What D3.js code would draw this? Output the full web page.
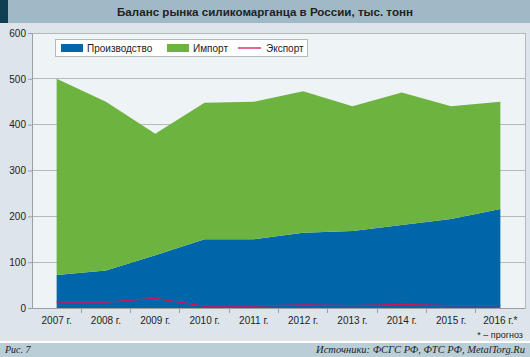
<!DOCTYPE html>
<html><head><meta charset="utf-8">
<script src="https://cdn.jsdelivr.net/npm/d3@7"></script>
<style>body{margin:0;background:#dde5ea;}svg{display:block;}</style>
</head><body><svg id="c" width="530" height="357"></svg>
<script>
const years = ["2007 г.","2008 г.","2009 г.","2010 г.","2011 г.","2012 г.","2013 г.","2014 г.","2015 г.","2016 г.*"];
const production = [72, 82, 115, 150, 150, 164, 168, 181, 194, 216];
const imports = [428, 368, 265, 298, 300, 309, 272, 289, 246, 234];
const exports_ = [13, 13, 21, 4, 4, 7, 5, 8, 5, 5];
const yTicks = [0,100,200,300,400,500,600];

const svg = d3.select("#c");
const W=530,H=357;
const font="Liberation Sans, Arial, Helvetica, sans-serif";
svg.append("rect").attr("width",W).attr("height",H).attr("fill","#dde5ea");
// title bar
svg.append("rect").attr("x",0).attr("y",0).attr("width",W).attr("height",23).attr("fill","#9fbac6");
svg.append("rect").attr("x",0).attr("y",0).attr("width",8).attr("height",23).attr("fill","#0e3f52");
svg.append("text").attr("x",265).attr("y",16).attr("text-anchor","middle").attr("font-family",font).attr("font-size",11.6).attr("font-weight","bold").attr("fill","#222").text("Баланс рынка силикомарганца в России, тыс. тонн");
// footer
svg.append("rect").attr("x",0).attr("y",341).attr("width",W).attr("height",2).attr("fill","#ffffff");
svg.append("rect").attr("x",0).attr("y",343).attr("width",W).attr("height",14).attr("fill","#b9ced7");
svg.append("text").attr("x",5).attr("y",353).attr("font-family","Liberation Serif, Times New Roman, serif").attr("font-style","italic").attr("font-size",10).attr("fill","#222").text("Рис. 7");
svg.append("text").attr("x",525).attr("y",353).attr("text-anchor","end").attr("font-family","Liberation Serif, Times New Roman, serif").attr("font-style","italic").attr("font-size",10.5).attr("fill","#222").text("Источники: ФСГС РФ, ФТС РФ, MetalTorg.Ru");

const L=32,R=525,T=33,B=308;
svg.append("rect").attr("x",L).attr("y",T).attr("width",R-L).attr("height",B-T).attr("fill","#eef3f6");

const x = d3.scaleBand().domain(years).range([L,R]);
const y = d3.scaleLinear().domain([0,600]).range([B,T]);
const cx = d => x(d)+x.bandwidth()/2;

// gridlines
svg.append("g").selectAll("line").data(yTicks).join("line")
  .attr("x1",L).attr("x2",R).attr("y1",d=>y(d)).attr("y2",d=>y(d))
  .attr("stroke","#b4b9bc").attr("stroke-width",1).attr("shape-rendering","crispEdges");
svg.append("line").attr("x1",R).attr("x2",R).attr("y1",T).attr("y2",B).attr("stroke","#b4b9bc").attr("shape-rendering","crispEdges");

const rows = years.map((yr,i)=>({yr, p:production[i], im:imports[i], e:exports_[i]}));
const stack = d3.stack().keys(["p","im"])(rows);
const area = d3.area().x(d=>cx(d.data.yr)).y0(d=>y(d[0])).y1(d=>y(d[1]));
const colors = ["#0066aa","#6db33f"];
svg.append("g").selectAll("path").data(stack).join("path").attr("d",area).attr("fill",(d,i)=>colors[i]);
svg.append("path").datum(rows).attr("d",d3.line().x(d=>cx(d.yr)).y(d=>y(d.e)))
  .attr("fill","none").attr("stroke","#d4145a").attr("stroke-width",1.3);

// axes
const ya = svg.append("g").attr("transform",`translate(${L},0)`)
  .call(d3.axisLeft(y).tickValues(yTicks).tickSize(4).tickPadding(2));
ya.select(".domain").attr("stroke","#9aa0a4");
ya.selectAll(".tick line").attr("stroke","#9aa0a4");
ya.selectAll("text").attr("font-family",font).attr("font-size",10).attr("fill","#222");

const xa = svg.append("g").attr("transform",`translate(0,${B})`)
  .call(d3.axisBottom(x).tickSize(0).tickPadding(9));
xa.select(".domain").attr("stroke","#9aa0a4");
xa.selectAll("text").attr("font-family",font).attr("font-size",10).attr("fill","#222");
svg.append("g").selectAll("line").data(years.slice(1)).join("line")
  .attr("x1",d=>x(d)).attr("x2",d=>x(d)).attr("y1",B).attr("y2",B+5)
  .attr("stroke","#9aa0a4").attr("shape-rendering","crispEdges");

svg.append("text").attr("x",523).attr("y",338).attr("text-anchor","end").attr("font-family",font).attr("font-size",9).attr("fill","#222").text("* – прогноз");

// legend
const lg = svg.append("g");
lg.append("rect").attr("x",55.5).attr("y",39.5).attr("width",252).attr("height",17).attr("fill","#ffffff").attr("stroke","#b4b9bc");
const items=[{n:"Производство",c:colors[0],t:"r",x:61},{n:"Импорт",c:colors[1],t:"r",x:167},{n:"Экспорт",c:"#d4145a",t:"l",x:238}];
items.forEach(it=>{
  if(it.t==="r") lg.append("rect").attr("x",it.x).attr("y",44).attr("width",22).attr("height",8).attr("fill",it.c);
  else lg.append("line").attr("x1",it.x).attr("x2",it.x+23).attr("y1",48).attr("y2",48).attr("stroke",it.c).attr("stroke-width",1.3);
  lg.append("text").attr("x",it.x+(it.t==="r"?26:28)).attr("y",52).attr("font-family",font).attr("font-size",10).attr("fill","#222").text(it.n);
});
</script></body></html>
